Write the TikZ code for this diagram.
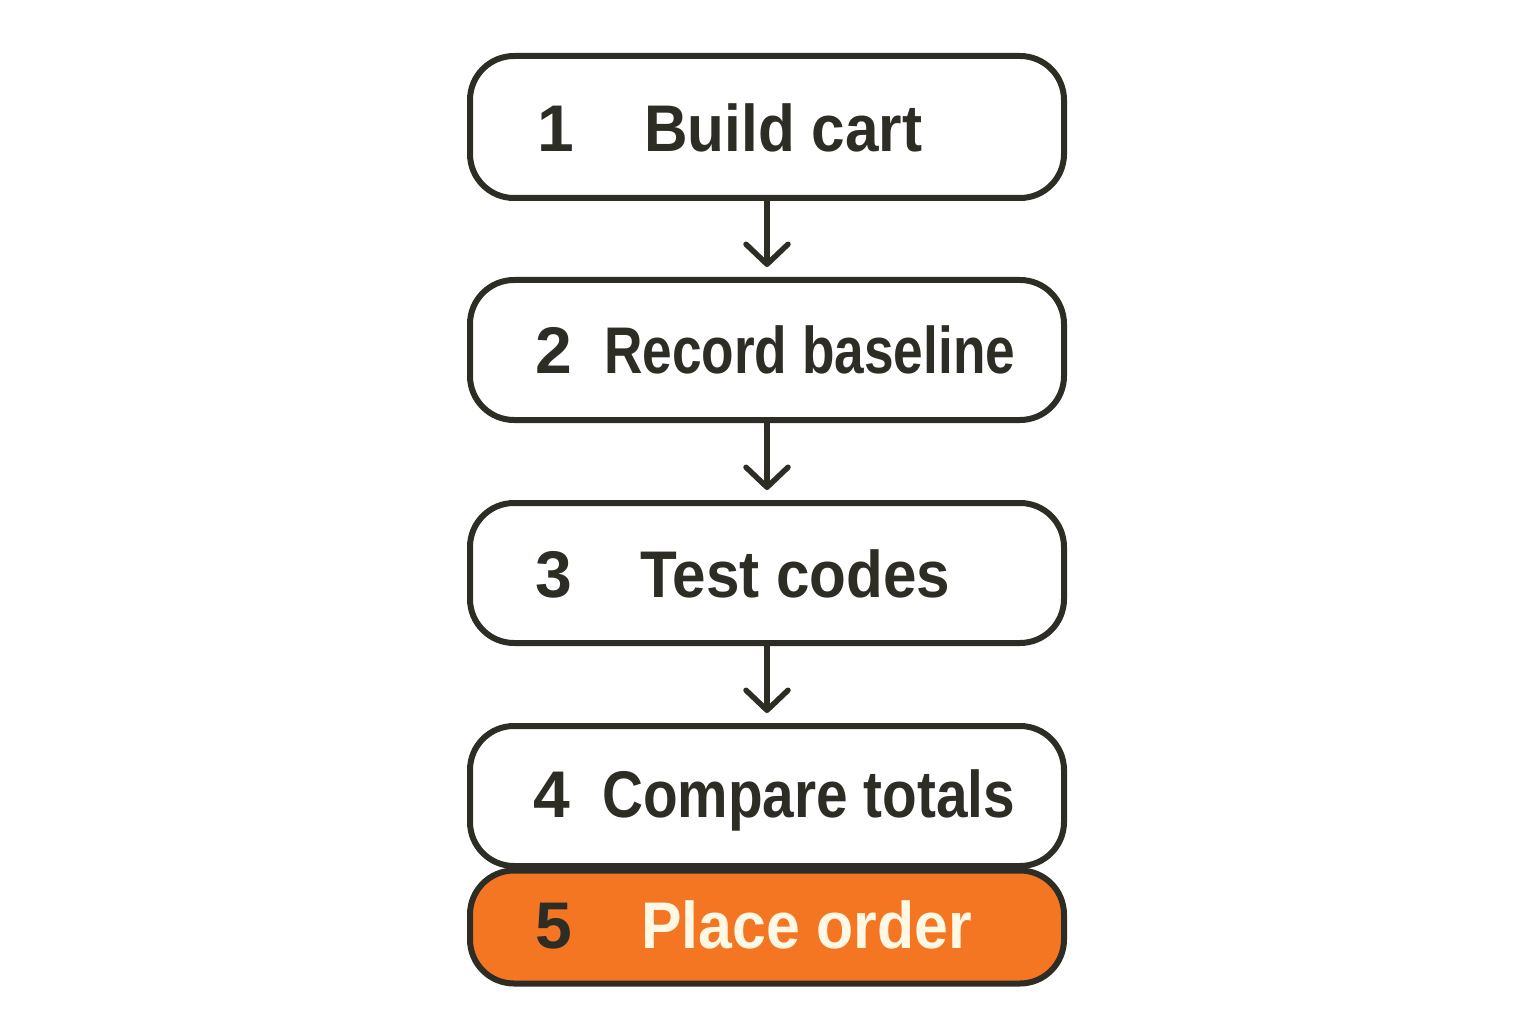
\documentclass[tikz,border=0pt]{standalone}
\usepackage{fontspec}
\setmainfont{Liberation Sans}
\usetikzlibrary{arrows.meta}
\definecolor{ink}{RGB}{45,45,38}
\definecolor{accent}{RGB}{244,118,34}
\definecolor{cream}{RGB}{255,248,228}
\newcommand{\fitw}[2]{\resizebox{#1}{\height}{#2}}
\tikzset{
  stepbox/.style={draw=ink, line width=6pt, rounded corners=44pt, minimum width=594pt, fill=white, inner sep=0pt},
  num/.style={anchor=base west, inner sep=0pt, font=\fontsize{66}{70}\selectfont\bfseries, text=ink},
  lbl/.style={anchor=base west, inner sep=0pt, font=\fontsize{66}{70}\selectfont\bfseries, text=ink},
  flow/.style={draw=ink, line width=5.5pt, -{Straight Barb[length=20pt,width=42pt,line width=5.5pt,line cap=round,line join=round]}},
}
\begin{document}
\begin{tikzpicture}[x=1pt,y=-1pt]
\useasboundingbox (0,0) rectangle (1536,1024);
\node[stepbox, minimum height=142pt] (b1) at (767,127) {};
\node[stepbox, minimum height=140pt] (b2) at (767,350) {};
\node[stepbox, minimum height=140pt] (b3) at (767,573) {};
\node[stepbox, minimum height=140pt] (b4) at (767,796) {};
\node[stepbox, minimum height=113pt, fill=accent] (b5) at (767,927) {};
\node[num] (n1) at (537,152) {1};
\node[lbl] (t1) at (644,152) {\fitw{278pt}{Build cart}};
\node[num] (n2) at (535,373) {2};
\node[lbl] (t2) at (604,373) {\fitw{411pt}{Record baseline}};
\node[num] (n3) at (535,597) {3};
\node[lbl] (t3) at (640,597) {\fitw{310pt}{Test codes}};
\node[num] (n4) at (533,817) {4};
\node[lbl] (t4) at (602,817) {\fitw{413pt}{Compare totals}};
\node[num] (n5) at (535,948) {5};
\node[lbl, text=cream] (t5) at (641,948) {\fitw{331pt}{Place order}};
\draw[flow] (b1.south) -- ([yshift=10pt]b2.north);
\draw[flow] (b2.south) -- ([yshift=10pt]b3.north);
\draw[flow] (b3.south) -- ([yshift=10pt]b4.north);
\end{tikzpicture}
\end{document}
